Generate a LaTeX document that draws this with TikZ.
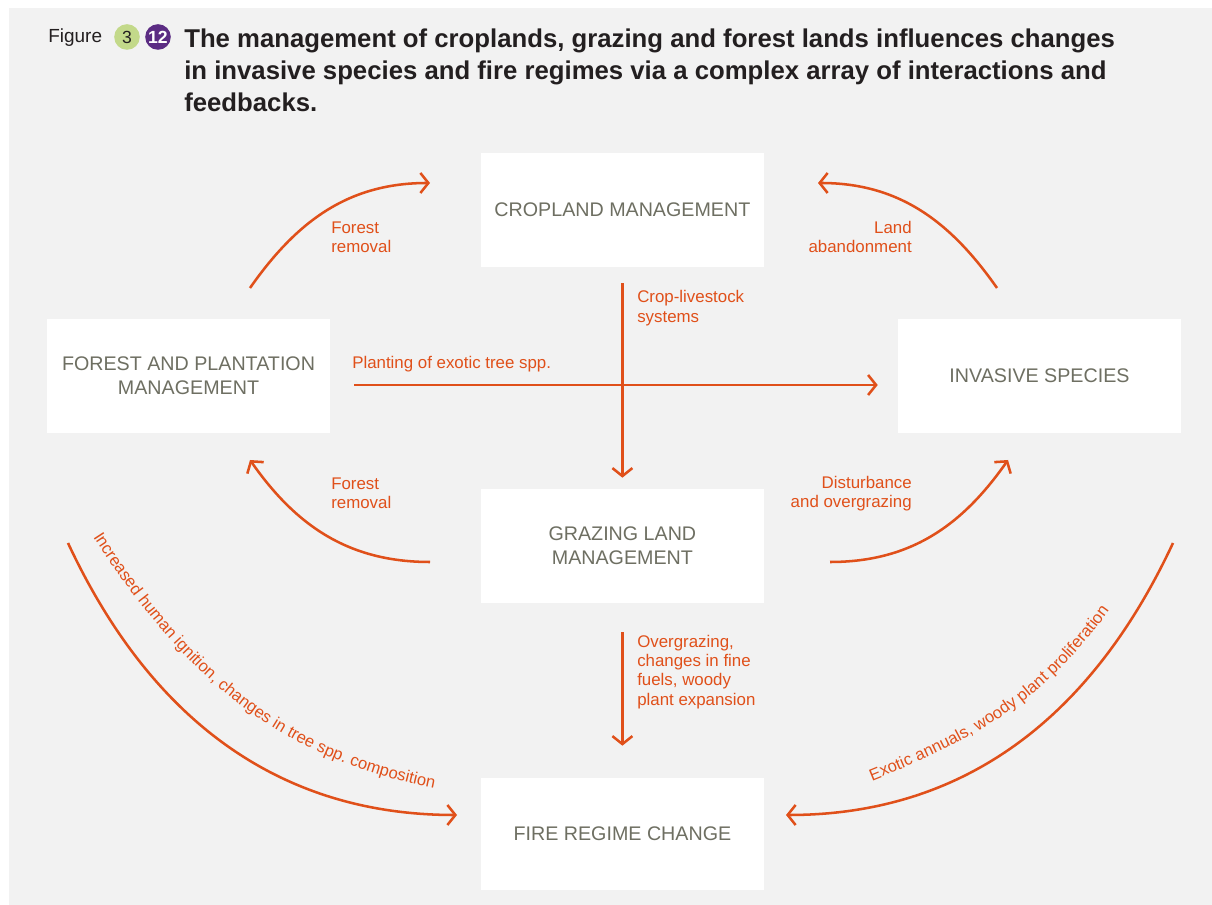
\documentclass[tikz,border=0pt]{standalone}
\usepackage{fontspec}
\setmainfont{Liberation Sans}
\usetikzlibrary{arrows.meta,decorations.text}
\definecolor{fireorange}{HTML}{E0501A}
\definecolor{boxgray}{HTML}{6E6F62}
\definecolor{panel}{HTML}{F2F2F2}
\definecolor{titleink}{HTML}{231F20}
\definecolor{badgegreen}{HTML}{C3D98A}
\definecolor{badgepurple}{HTML}{5B2C83}

\tikzset{
  mgmt/.style={fill=white, minimum width=7.075cm, minimum height=2.85cm,
    text=boxgray, align=center, font=\fontsize{14}{17}\selectfont},
  flow/.style={draw=fireorange, line width=1.8pt,
    -{Straight Barb[length=2mm,width=5mm]}},
  lbl/.style={text=fireorange, inner sep=0pt, font=\fontsize{12}{13.7}\selectfont},
  badge/.style={circle, minimum size=0.64cm, inner sep=0pt, font=\fontsize{12.5}{12.5}\selectfont}
}

\begin{document}
\begin{tikzpicture}
\useasboundingbox (0,0) rectangle (30.3,22.625);
\fill[panel] (0.225,0) rectangle (30.3,22.425);

% heading
\node[anchor=base west, inner sep=0pt, text=titleink, font=\fontsize{13.5}{15}\selectfont] (figword) at (1.2,21.55) {Figure};
\node[badge, fill=badgegreen, text=titleink] (chapter) at (3.175,21.7) {3};
\node[badge, fill=badgepurple, text=white, font=\bfseries\fontsize{12.5}{12.5}\selectfont] (number) at (3.95,21.7) {12};
\node[anchor=north west, inner sep=0pt, align=left, text=titleink, font=\bfseries\fontsize{18.3}{22.8}\selectfont] (title) at (4.6,21.92)
  {The management of croplands, grazing and forest lands influences changes\\
   in invasive species and fire regimes via a complex array of interactions and\\
   feedbacks.};

% management boxes
\node[mgmt] (crop) at (15.56,17.375) {CROPLAND MANAGEMENT};
\node[mgmt] (forest) at (4.7125,13.225) {FOREST AND PLANTATION\\MANAGEMENT};
\node[mgmt] (invasive) at (25.9875,13.225) {INVASIVE SPECIES};
\node[mgmt] (grazing) at (15.56,8.975) {GRAZING LAND\\MANAGEMENT};
\node[mgmt, minimum height=2.8cm] (fire) at (15.56,1.775) {FIRE REGIME CHANGE};

% free ends of the curved arrows
\coordinate (clearA) at (6.25,15.425);
\coordinate (clearB) at (10.75,18.05);
\coordinate (abandonA) at (24.925,15.425);
\coordinate (abandonB) at (20.45,18.05);
\coordinate (removeA) at (10.75,8.575);
\coordinate (removeB) at (6.25,11.125);
\coordinate (disturbA) at (20.75,8.575);
\coordinate (disturbB) at (25.2,11.125);
\coordinate (igniteA) at (1.7,9.05);
\coordinate (igniteB) at (11.425,2.25);
\coordinate (exoticA) at (29.325,9.05);
\coordinate (exoticB) at (19.65,2.25);

% arrows
\draw[flow] (clearA) to[out=55,in=180] (clearB);
\draw[flow] (abandonA) to[out=125,in=0] (abandonB);
\draw[flow] ([yshift=-4mm]crop.south) -- ([yshift=2.75mm]grazing.north);
\draw[flow] ([shift={(0.6,-0.225)}]forest.east) -- ([shift={(-0.5,-0.225)}]invasive.west);
\draw[flow] (removeA) to[out=180,in=-55] (removeB);
\draw[flow] (disturbA) to[out=0,in=-125] (disturbB);
\draw[flow] ([yshift=-7.25mm]grazing.south) -- ([yshift=8mm]fire.north);
\draw[flow] (igniteA) to[out=-65,in=180] (igniteB);
\draw[flow] (exoticA) to[out=-115,in=0] (exoticB);

% labels
\node[lbl, anchor=west, align=left] (cleartxt) at (8.275,16.7) {Forest\\removal};
\node[lbl, anchor=east, align=right] (abandontxt) at (22.8,16.7) {Land\\abandonment};
\node[lbl, anchor=west, align=left] (livestocktxt) at (15.925,14.92) {Crop-livestock\\systems};
\node[lbl, anchor=west] (plantingtxt) at (8.8,13.52) {Planting of exotic tree spp.};
\node[lbl, anchor=west, align=left] (removetxt) at (8.275,10.3) {Forest\\removal};
\node[lbl, anchor=east, align=right] (disturbtxt) at (22.8,10.28) {Disturbance\\and overgrazing};
\node[lbl, anchor=west, align=left] (overgrazetxt) at (15.925,5.83) {Overgrazing,\\changes in fine\\fuels, woody\\plant expansion};

\path[decorate, decoration={text along path, text align=left,
  text={|\fontsize{11.8}{14}\selectfont\color{fireorange}|Increased human ignition, changes in tree spp. composition}}]
  (2.325,9.2) to[out=-57,in=170] (11.2,2.85);
\path[decorate, decoration={text along path, text align=left,
  text={|\fontsize{11.8}{14}\selectfont\color{fireorange}|Exotic annuals, woody plant proliferation}}]
  (21.8,3.1) to[out=22,in=-125] (27.9,7.6);
\end{tikzpicture}
\end{document}
